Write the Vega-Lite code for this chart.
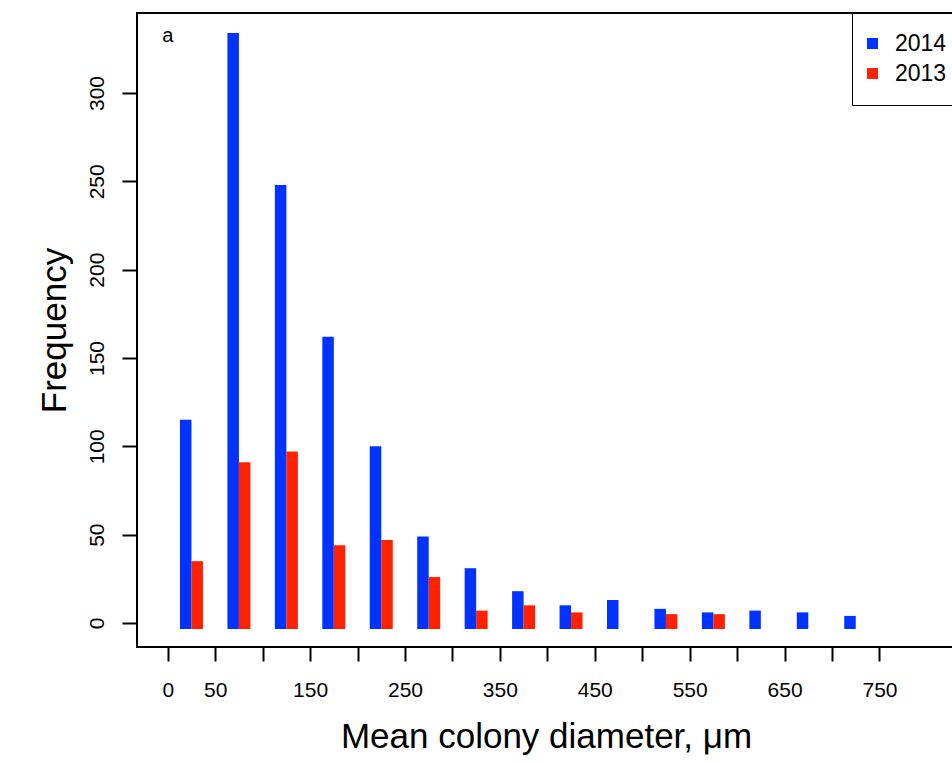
{
  "$schema": "https://vega.github.io/schema/vega-lite/v6.json",
  "width": 818,
  "height": 634,
  "autosize": {"type": "none"},
  "padding": {"left": 137, "top": 13, "right": -3, "bottom": 116},
  "config": {
    "view": {"stroke": "black", "strokeWidth": 2},
    "font": "Liberation Sans",
    "axis": {"grid": false, "domain": false, "tickColor": "black", "tickWidth": 2, "labelColor": "black", "titleColor": "black", "labelFont": "Liberation Sans", "titleFont": "Liberation Sans", "titleFontWeight": "normal"}
  },
  "data": {"values": [
    {"diameter": 25, "year": "2014", "count": 115},
    {"diameter": 75, "year": "2014", "count": 334},
    {"diameter": 125, "year": "2014", "count": 248},
    {"diameter": 175, "year": "2014", "count": 162},
    {"diameter": 225, "year": "2014", "count": 100},
    {"diameter": 275, "year": "2014", "count": 49},
    {"diameter": 325, "year": "2014", "count": 31},
    {"diameter": 375, "year": "2014", "count": 18},
    {"diameter": 425, "year": "2014", "count": 10},
    {"diameter": 475, "year": "2014", "count": 13},
    {"diameter": 525, "year": "2014", "count": 8},
    {"diameter": 575, "year": "2014", "count": 6},
    {"diameter": 625, "year": "2014", "count": 7},
    {"diameter": 675, "year": "2014", "count": 6},
    {"diameter": 725, "year": "2014", "count": 4},
    {"diameter": 25, "year": "2013", "count": 35},
    {"diameter": 75, "year": "2013", "count": 91},
    {"diameter": 125, "year": "2013", "count": 97},
    {"diameter": 175, "year": "2013", "count": 44},
    {"diameter": 225, "year": "2013", "count": 47},
    {"diameter": 275, "year": "2013", "count": 26},
    {"diameter": 325, "year": "2013", "count": 7},
    {"diameter": 375, "year": "2013", "count": 10},
    {"diameter": 425, "year": "2013", "count": 6},
    {"diameter": 525, "year": "2013", "count": 5},
    {"diameter": 575, "year": "2013", "count": 5}
  ]},
  "layer": [
    {
      "transform": [{"filter": "datum.year == '2014'"}],
      "mark": {"type": "bar", "orient": "vertical", "width": 11.5, "xOffset": -5.75},
      "encoding": {
        "x": {"field": "diameter", "type": "quantitative",
              "scale": {"domain": [-32.4, 829.6], "nice": false, "zero": false, "padding": 0},
              "axis": {"title": "Mean colony diameter, μm", "values": [0,50,100,150,200,250,300,350,400,450,500,550,600,650,700,750],
                       "labelExpr": "(datum.value == 0 || datum.value % 100 == 50) ? datum.label : ''",
                       "tickSize": 14, "labelPadding": 18, "labelFontSize": 21, "labelFlush": false, "labelOverlap": false,
                       "titleFontSize": 35, "titlePadding": 19}},
        "y": {"field": "count", "type": "quantitative",
              "scale": {"domain": [-13.6, 345.3], "nice": false, "zero": false, "padding": 0},
              "axis": {"title": "Frequency", "values": [0,50,100,150,200,250,300], "tickSize": 15,
                       "labelAngle": -90, "labelAlign": "center", "labelBaseline": "bottom", "labelPadding": 15,
                       "labelFontSize": 21, "labelOverlap": false, "titleFontSize": 35, "titlePadding": 14}},
        "y2": {"datum": -3.4},
        "color": {"field": "year", "type": "nominal",
                  "scale": {"domain": ["2014", "2013"], "range": ["#0033FF", "#FF2200"]},
                  "legend": {"title": null, "orient": "none", "legendX": 715, "legendY": 0,
                             "strokeColor": "black", "fillColor": "white", "padding": 19,
                             "symbolType": "square", "symbolSize": 121, "symbolStrokeWidth": 0, "symbolOffset": -10,
                             "labelFontSize": 23, "labelFont": "Liberation Sans", "labelColor": "black", "labelOffset": 11, "rowPadding": 6}}
      }
    },
    {
      "transform": [{"filter": "datum.year == '2013'"}],
      "mark": {"type": "bar", "orient": "vertical", "width": 11.5, "xOffset": 5.75},
      "encoding": {
        "x": {"field": "diameter", "type": "quantitative"},
        "y": {"field": "count", "type": "quantitative"},
        "y2": {"datum": -3.4},
        "color": {"field": "year", "type": "nominal"}
      }
    },
    {
      "data": {"values": [{"diameter": 0, "count": 332, "label": "a"}]},
      "mark": {"type": "text", "fontSize": 20, "font": "Liberation Sans", "color": "black", "align": "center", "baseline": "middle"},
      "encoding": {
        "x": {"field": "diameter", "type": "quantitative"},
        "y": {"field": "count", "type": "quantitative"},
        "text": {"field": "label"}
      }
    }
  ]
}
